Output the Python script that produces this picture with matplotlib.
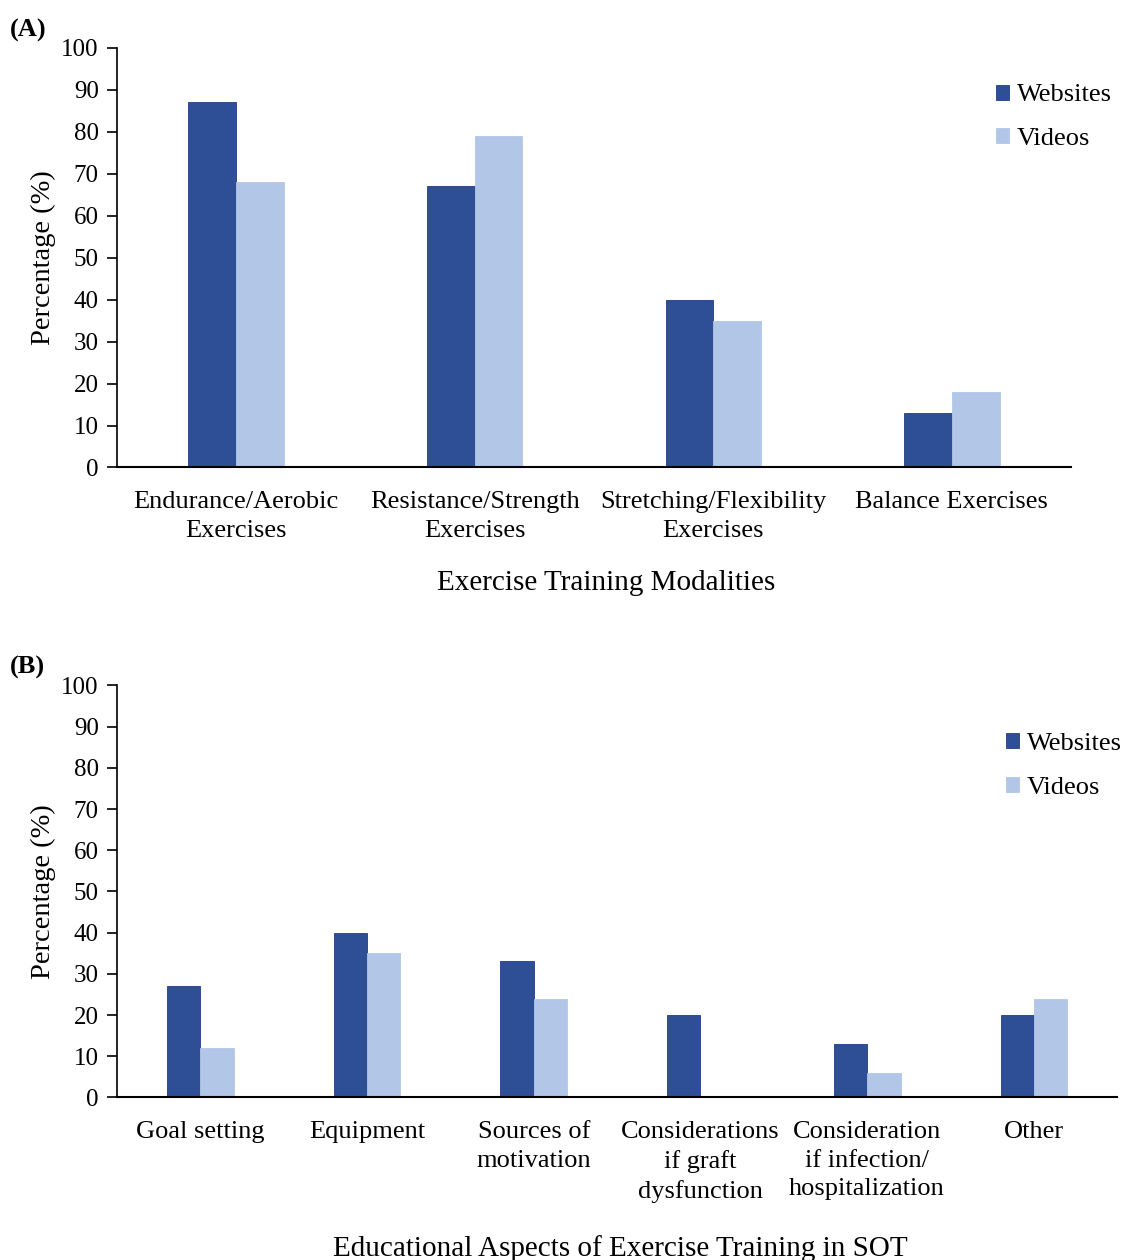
import numpy as np
import matplotlib
matplotlib.use("Agg")
import matplotlib.pyplot as plt

plt.rcParams['font.family'] = ['Liberation Serif', 'DejaVu Serif']

# Panel A data
modalities = ["Endurance/Aerobic\nExercises", "Resistance/Strength\nExercises",
              "Stretching/Flexibility\nExercises", "Balance Exercises"]
websites_a = [87, 67, 40, 13]
videos_a = [68, 79, 35, 18]

# Panel B data
aspects = ["Goal setting", "Equipment", "Sources of\nmotivation",
           "Considerations\nif graft\ndysfunction", "Consideration\nif infection/\nhospitalization", "Other"]
websites_b = [27, 40, 33, 20, 13, 20]
videos_b = [12, 35, 24, 0, 6, 24]

dark = "#2E4F96"
light = "#B2C6E8"

fig = plt.figure(figsize=(11.24, 12.6), dpi=100)
ax_a = fig.add_axes([0.104, 0.629, 0.849, 0.333])
ax_b = fig.add_axes([0.104, 0.129, 0.890, 0.327])


def draw_panel(ax, cats, web, vid, xlabel, label_x, label_y, legend_pos):
    x = np.arange(len(cats))
    w = 0.2
    ax.bar(x - w / 2, web, w, color=dark, edgecolor="#1F3C85", linewidth=0.6, label="Websites")
    ax.bar(x + w / 2, vid, w, color=light, edgecolor=light, linewidth=0.6, label="Videos")
    ax.set_xlim(-0.5, len(cats) - 0.5)
    ax.set_ylim(0, 100)
    ax.set_yticks(range(0, 101, 10))
    ax.set_xticks(x)
    ax.set_xticklabels(cats, fontsize=19, linespacing=1.38)
    ax.tick_params(axis="x", length=0, pad=17)
    ax.tick_params(axis="y", labelsize=18, length=7, width=1.2, direction="out", pad=6)
    for s in ["top", "right"]:
        ax.spines[s].set_visible(False)
    ax.spines["left"].set_linewidth(1.2)
    ax.spines["bottom"].set_linewidth(1.5)
    ax.set_ylabel("Percentage (%)", fontsize=20.5, labelpad=4)
    ax.set_xlabel(xlabel, fontsize=21)
    ax.xaxis.set_label_coords(label_x, label_y)
    ax.legend(loc="upper left", bbox_to_anchor=legend_pos, bbox_transform=fig.transFigure,
              frameon=False, fontsize=19,
              handlelength=0.5, handleheight=0.5, handletextpad=0.3, labelspacing=0.82,
              borderpad=0, borderaxespad=0)


draw_panel(ax_a, modalities, websites_a, videos_a, "Exercise Training Modalities",
           0.513, -0.245, (0.886, 0.933))
draw_panel(ax_b, aspects, websites_b, videos_b, "Educational Aspects of Exercise Training in SOT",
           0.503, -0.333, (0.895, 0.418))

fig.text(0.009, 0.976, "(A)", fontsize=19, fontweight="bold", ha="left", va="center")
fig.text(0.009, 0.47, "(B)", fontsize=19, fontweight="bold", ha="left", va="center")

fig.savefig("out.png", dpi=100, facecolor="white")
